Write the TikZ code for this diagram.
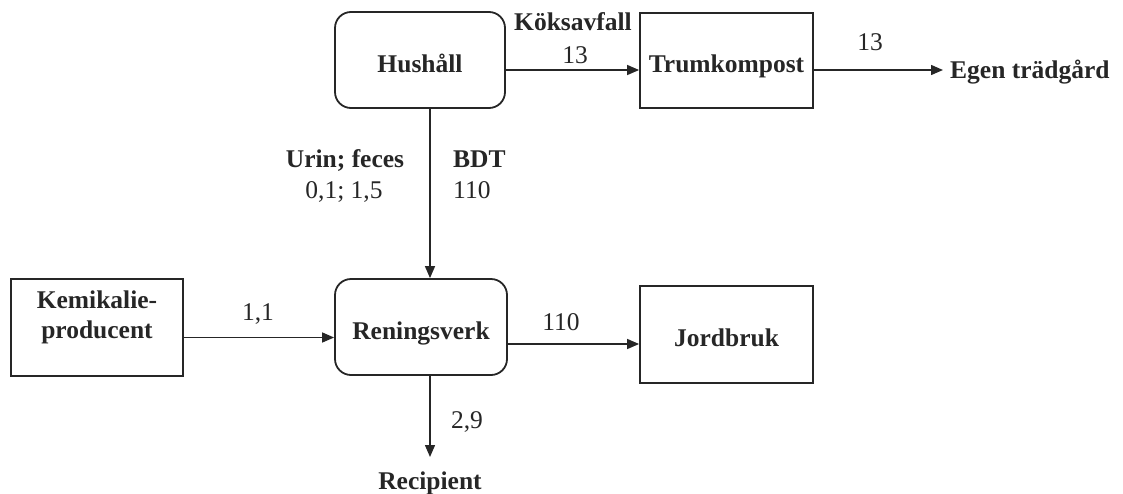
\documentclass[tikz,border=0pt]{standalone}
\usepackage{fontspec}
\setmainfont{Liberation Serif}
\usetikzlibrary{arrows.meta}
\definecolor{ink}{HTML}{262626}
\begin{document}
\begin{tikzpicture}[x=1pt,y=-1pt,
  every node/.style={font=\fontsize{25.5}{30}\selectfont, text=ink},
  heading/.style={font=\fontsize{25.5}{30}\selectfont\bfseries},
  block/.style={draw=ink, line width=1.8pt, inner sep=0pt, text height=24pt, text depth=0pt},
  sqbox/.style={block},
  rbox/.style={block, rounded corners=16pt},
  qty/.style={inner sep=0pt, text height=17pt, text depth=0pt},
  flow/.style={draw=ink, line width=1.4pt, -{Triangle[length=12pt,width=10pt]}},
]
\useasboundingbox (0,0) rectangle (1123,493);

% process boxes
\node[rbox, heading, minimum width=170pt, minimum height=96pt] (hus) at (420,60) {Hushåll};
\node[sqbox, heading, minimum width=173pt, minimum height=95pt] (trum) at (726.5,60.5) {Trumkompost};
\node[sqbox, minimum width=172pt, minimum height=97pt] (kem) at (97,327.5) {};
\node[heading, align=center, inner sep=0pt] (kemtext) at (97,317) {Kemikalie-\\producent};
\node[rbox, heading, minimum width=172pt, minimum height=96pt] (ren) at (421,327) {Reningsverk};
\node[sqbox, heading, minimum width=173pt, minimum height=97pt] (jord) at (726.5,334.5) {Jordbruk};

% end points without a box
\node[heading, qty, anchor=west, inner xsep=7pt] (egen) at (943,70) {Egen trädgård};
\node[heading, qty, anchor=north, inner ysep=15pt] (rec) at (430,457) {Recipient};

% flows
\draw[flow] ([yshift=-10pt]hus.east) -- ([yshift=-10pt]hus.east -| trum.west);
\draw[flow] (egen.west -| trum.east) -- (egen.west);
\draw[flow] ([xshift=10pt]hus.south) -- ([xshift=10pt]hus.south |- ren.north);
\draw[flow] ([yshift=-10pt]kem.east) -- ([yshift=-10pt]kem.east -| ren.west);
\draw[flow] ([yshift=-17pt]ren.east) -- ([yshift=-17pt]ren.east -| jord.west);
\draw[flow] (rec.north |- ren.south) -- (rec.north);

% flow labels
\node[heading, qty] (kok) at (573,22) {Köksavfall};
\node[qty] (kokv) at (575,55) {13};
\node[qty] (egenv) at (870,42) {13};
\node[heading, qty] (urin) at (345,159) {Urin; feces};
\node[qty] (urinv) at (344,190) {0,1; 1,5};
\node[heading, qty, anchor=west] (bdt) at (453,159) {BDT};
\node[qty, anchor=west] (bdtv) at (453,190) {110};
\node[qty] (kemv) at (258,312) {1,1};
\node[qty] (jordv) at (561,322) {110};
\node[qty] (recv) at (467,420) {2,9};
\end{tikzpicture}
\end{document}
